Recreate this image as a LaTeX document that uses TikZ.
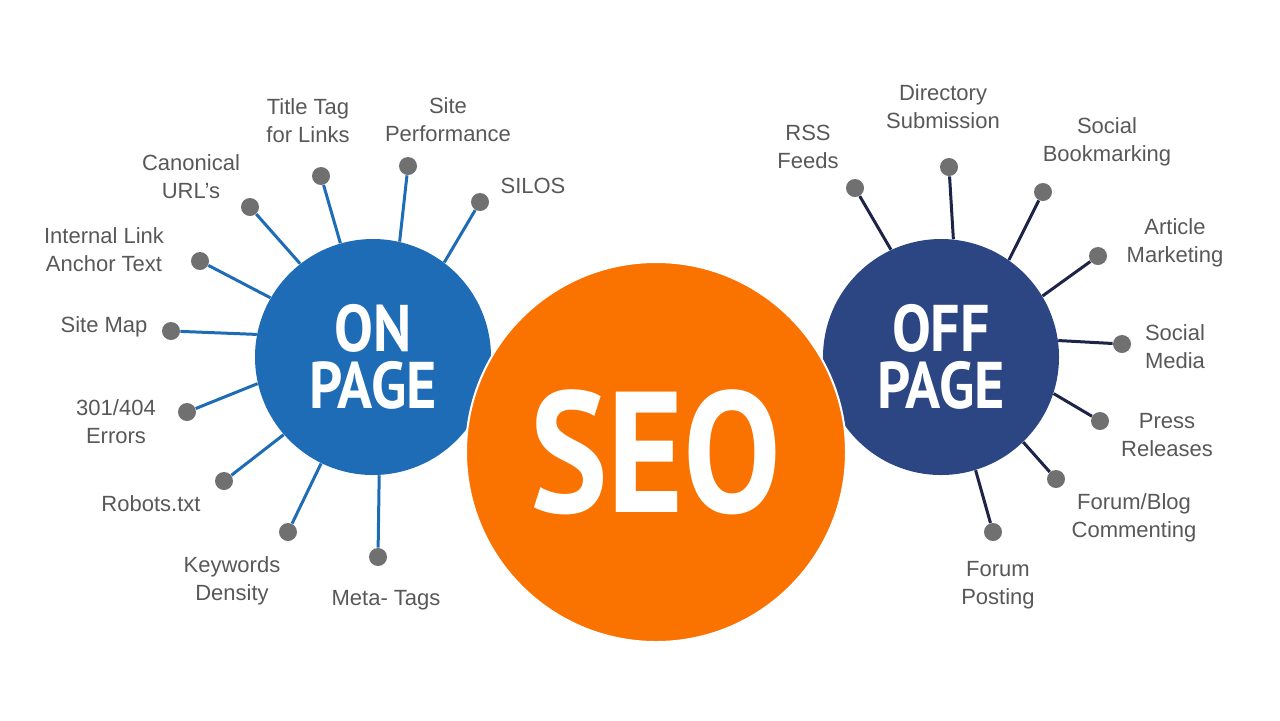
\documentclass[tikz,border=0pt]{standalone}
\usepackage{fontspec}
\setmainfont{Liberation Sans}
\newfontfamily\hubfont[FakeStretch=0.88]{PT Sans}
\newfontfamily\seofont[FakeStretch=0.85]{PT Sans}
\definecolor{onblue}{RGB}{31,108,182}
\definecolor{offblue}{RGB}{44,70,132}
\definecolor{offline}{RGB}{30,36,72}
\definecolor{seoorange}{RGB}{250,114,0}
\definecolor{dotgray}{RGB}{112,112,112}
\definecolor{txtgray}{RGB}{88,88,88}

\begin{document}
\begin{tikzpicture}[x=0.5pt, y=-0.5pt,
  hub/.style={circle, inner sep=0pt, minimum size=118pt, text=white, align=center},
  dot/.style={circle, fill=dotgray, inner sep=0pt, minimum size=9pt},
  lbl/.style={text=txtgray, align=center, font=\fontsize{11}{14}\selectfont},
  onspoke/.style={onblue, line width=1.5pt},
  offspoke/.style={offline, line width=1.5pt}]
  \useasboundingbox (0,0) rectangle (1280,720);

  \node[hub, fill=onblue, font=\hubfont\bfseries\fontsize{33}{28.5}\selectfont] (on) at (373,357) {ON\\PAGE};
  \node[hub, fill=offblue, font=\hubfont\bfseries\fontsize{33}{28.5}\selectfont] (off) at (941,357) {OFF\\PAGE};
  \node[hub, fill=seoorange, draw=white, line width=1pt, minimum size=190pt,
    font=\seofont\bfseries\fontsize{86}{86}\selectfont] (seo) at (656,452) {SEO};

  \node[dot] (sitemap) at (171,331) {};
  \node[lbl] (sitemap-t) at (104,327) {Site Map};
  \node[dot] (anchor) at (200,261) {};
  \node[lbl] (anchor-t) at (104,250) {Internal Link\\Anchor Text};
  \node[dot] (canon) at (250,207) {};
  \node[lbl] (canon-t) at (191,177) {Canonical\\URL's};
  \node[dot] (title) at (321,176) {};
  \node[lbl] (title-t) at (308,121) {Title Tag\\for Links};
  \node[dot] (perf) at (408,166) {};
  \node[lbl] (perf-t) at (448,120) {Site\\Performance};
  \node[dot] (silos) at (480,202) {};
  \node[lbl] (silos-t) at (533,186) {SILOS};
  \node[dot] (errors) at (187,412) {};
  \node[lbl] (errors-t) at (116,422) {301/404\\Errors};
  \node[dot] (robots) at (224,481) {};
  \node[lbl] (robots-t) at (151,504) {Robots.txt};
  \node[dot] (density) at (288,532) {};
  \node[lbl] (density-t) at (232,581) {Keywords\\Density};
  \node[dot] (meta) at (378,557) {};
  \node[lbl] (meta-t) at (386,600) {Meta- Tags};

  \draw[onspoke] (sitemap) -- (on.169);
  \draw[onspoke] (anchor) -- (on.150);
  \draw[onspoke] (canon) -- (on.128);
  \draw[onspoke] (title) -- (on.106);
  \draw[onspoke] (perf) -- (on.77);
  \draw[onspoke] (silos) -- (on.53);
  \draw[onspoke] (errors) -- (on.193);
  \draw[onspoke] (robots) -- (on.221);
  \draw[onspoke] (density) -- (on.244);
  \draw[onspoke] (meta) -- (on.273);

  \node[dot] (rss) at (855,188) {};
  \node[lbl] (rss-t) at (808,147) {RSS\\Feeds};
  \node[dot] (dir) at (949,167) {};
  \node[lbl] (dir-t) at (943,107) {Directory\\Submission};
  \node[dot] (bookmark) at (1043,192) {};
  \node[lbl] (bookmark-t) at (1107,142) {Social\\Bookmarking};
  \node[dot] (article) at (1098,256) {};
  \node[lbl] (article-t) at (1175,243) {Article\\Marketing};
  \node[dot] (media) at (1122,344) {};
  \node[lbl] (media-t) at (1175,347) {Social\\Media};
  \node[dot] (press) at (1100,421) {};
  \node[lbl] (press-t) at (1167,435) {Press\\Releases};
  \node[dot] (blog) at (1056,479) {};
  \node[lbl] (blog-t) at (1134,518) {Forum/Blog\\Commenting};
  \node[dot] (posting) at (993,532) {};
  \node[lbl] (posting-t) at (998,585) {Forum\\Posting};

  \draw[offspoke] (rss) -- (off.115);
  \draw[offspoke] (dir) -- (off.84);
  \draw[offspoke] (bookmark) -- (off.55);
  \draw[offspoke] (article) -- (off.31);
  \draw[offspoke] (media) -- (off.8);
  \draw[offspoke] (press) -- (off.-18);
  \draw[offspoke] (blog) -- (off.-46);
  \draw[offspoke] (posting) -- (off.-73);
\end{tikzpicture}
\end{document}
